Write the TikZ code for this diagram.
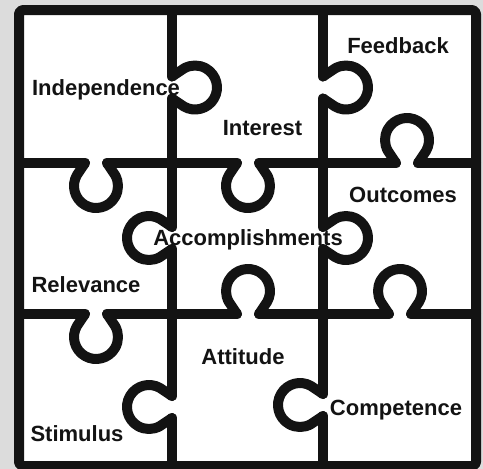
\documentclass[tikz,border=0pt]{standalone}
\usepackage{fontspec}
\setmainfont{Liberation Sans}
\definecolor{bg}{HTML}{DCDCDC}
\definecolor{ink}{HTML}{131313}
\newcommand\knob[3]{\draw[pz,shift={(#1,#2)},rotate=#3] (-11,0) -- (-19.05,12) arc[start angle=210,end angle=-30,radius=22] -- (11,0);}
% vertical segment: x, y1, y2, knob y, rotation
\newcommand\vseg[5]{\draw[pz] (#1,#2) -- (#1,#4-11) (#1,#4+11) -- (#1,#3);\knob{#1}{#4}{#5}}
% horizontal segment: y, x1, x2, knob x, rotation
\newcommand\hseg[5]{\draw[pz] (#2,#1) -- (#4-11,#1) (#4+11,#1) -- (#3,#1);\knob{#4}{#1}{#5}}
\begin{document}
\begin{tikzpicture}[x=1pt,y=-1pt,
  pz/.style={draw=ink,line width=10pt,line cap=round,line join=round},
  lbl/.style={font=\fontsize{22}{26}\selectfont\bfseries,text=ink,anchor=base,inner sep=0pt}]
\fill[bg] (0,0) rectangle (483,469);
\useasboundingbox (0,0) rectangle (483,469);
\fill[white,rounded corners=4pt] (19,10) rectangle (476,466);
% vertical lines (right = 90, left = -90)
\vseg{172}{10}{163}{87.5}{90}
\vseg{172}{163}{314}{238}{-90}
\vseg{172}{314}{466}{407}{-90}
\vseg{323}{10}{163}{87.5}{90}
\vseg{323}{163}{314}{238}{90}
\vseg{323}{314}{466}{405}{-90}
% horizontal lines (down = 0, up = 180)
\hseg{163}{19}{172}{96}{0}
\hseg{163}{172}{323}{248}{0}
\hseg{163}{323}{476}{407}{180}
\hseg{314}{19}{172}{96}{0}
\hseg{314}{172}{323}{248}{180}
\hseg{314}{323}{476}{400}{180}
% frame
\draw[pz,rounded corners=4pt] (19,10) rectangle (476,466);
% labels
\node[lbl] (independence) at (106,95) {Independence};
\node[lbl] (interest) at (262.5,135) {Interest};
\node[lbl] (feedback) at (398,53) {Feedback};
\node[lbl] (outcomes) at (403,202) {Outcomes};
\node[lbl] (accomplishments) at (248,245) {Accomplishments};
\node[lbl] (relevance) at (86,292) {Relevance};
\node[lbl] (attitude) at (243,364.5) {Attitude};
\node[lbl] (competence) at (396,415.5) {Competence};
\node[lbl] (stimulus) at (77,441) {Stimulus};
\end{tikzpicture}
\end{document}
